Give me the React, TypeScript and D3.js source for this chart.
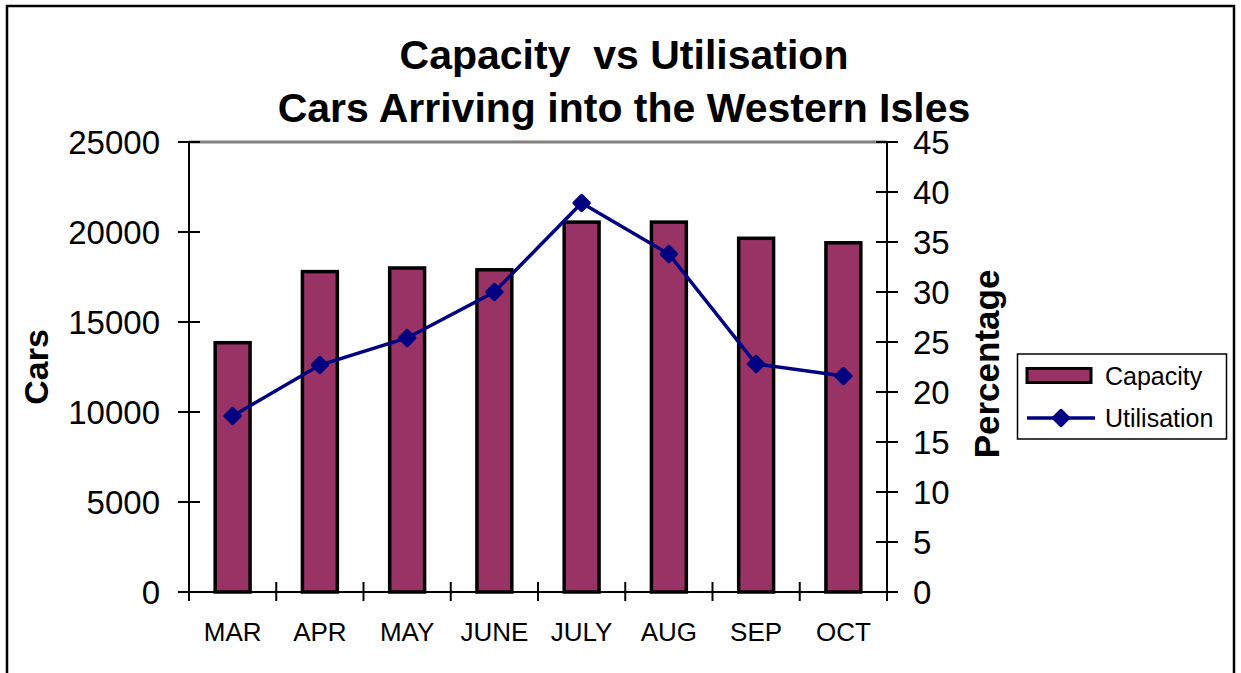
import React from "react";
import * as d3 from "d3";

const months = ["MAR", "APR", "MAY", "JUNE", "JULY", "AUG", "SEP", "OCT"];
const capacity = [13850, 17800, 18000, 17900, 20550, 20550, 19650, 19400];
const utilisation = [17.6, 22.7, 25.4, 30.0, 38.9, 33.8, 22.8, 21.6];
const leftTicks = [0, 5000, 10000, 15000, 20000, 25000];
const rightTicks = [0, 5, 10, 15, 20, 25, 30, 35, 40, 45];

const W = 1241;
const H = 673;
const plot = { left: 189, right: 887, top: 142, bottom: 592 };
const FONT = "Liberation Sans, Arial, Helvetica, sans-serif";

export default function App() {
  const x = d3.scaleBand<string>().domain(months).range([plot.left, plot.right]).padding(0);
  const yL = d3.scaleLinear().domain([0, 25000]).range([plot.bottom, plot.top]);
  const yR = d3.scaleLinear().domain([0, 45]).range([plot.bottom, plot.top]);
  const bw = x.bandwidth() * 0.4;
  const cx = (m: string) => (x(m) as number) + x.bandwidth() / 2;

  const line = d3
    .line<number>()
    .x((_, i) => cx(months[i]))
    .y((d) => yR(d));

  const diamond = (px: number, py: number, r: number) =>
    `M${px},${py - r}L${px + r},${py}L${px},${py + r}L${px - r},${py}Z`;

  const boundaries = d3.range(months.length + 1).map((i) => plot.left + i * x.bandwidth());

  return (
    <svg width={W} height={H} style={{ position: "absolute", left: 0, top: 0, background: "#fff" }} fontFamily={FONT}>
      <rect x={0} y={0} width={W} height={H} fill="#fff" />
      <rect x={7} y={6} width={1227} height={720} fill="none" stroke="#000" strokeWidth={2.5} />

      {/* title */}
      <text x={624} y={69} textAnchor="middle" fontSize={41} fontWeight="bold" style={{ whiteSpace: "pre" }}>
        {"Capacity  vs Utilisation"}
      </text>
      <text x={624} y={122} textAnchor="middle" fontSize={41} fontWeight="bold">
        Cars Arriving into the Western Isles
      </text>

      {/* bars */}
      {months.map((m, i) => (
        <rect
          key={m}
          x={cx(m) - bw / 2}
          y={yL(capacity[i])}
          width={bw}
          height={plot.bottom - yL(capacity[i])}
          fill="#993366"
          stroke="#000"
          strokeWidth={3.5}
        />
      ))}

      {/* plot frame */}
      <line x1={plot.left} x2={plot.right} y1={plot.top} y2={plot.top} stroke="#808080" strokeWidth={3} />
      <line x1={plot.left} x2={plot.left} y1={plot.top} y2={plot.bottom} stroke="#000" strokeWidth={2} />
      <line x1={plot.right} x2={plot.right} y1={plot.top} y2={plot.bottom} stroke="#000" strokeWidth={2} />
      <line x1={plot.left - 11} x2={plot.right + 11} y1={plot.bottom} y2={plot.bottom} stroke="#000" strokeWidth={2} />

      {/* left ticks */}
      {leftTicks.map((t) => (
        <g key={"l" + t}>
          <line x1={plot.left - 11} x2={plot.left + 11} y1={yL(t)} y2={yL(t)} stroke="#000" strokeWidth={2} />
          <text x={160} y={yL(t)} dy="0.36em" textAnchor="end" fontSize={33}>
            {t}
          </text>
        </g>
      ))}

      {/* right ticks */}
      {rightTicks.map((t) => (
        <g key={"r" + t}>
          <line x1={plot.right - 11} x2={plot.right + 11} y1={yR(t)} y2={yR(t)} stroke="#000" strokeWidth={2} />
          <text x={913} y={yR(t)} dy="0.36em" textAnchor="start" fontSize={33}>
            {t}
          </text>
        </g>
      ))}

      {/* x ticks */}
      {boundaries.map((b, i) => (
        <line key={"x" + i} x1={b} x2={b} y1={plot.bottom - 10} y2={plot.bottom + 9} stroke="#000" strokeWidth={2} />
      ))}
      {months.map((m) => (
        <text key={"t" + m} x={cx(m)} y={641} textAnchor="middle" fontSize={26}>
          {m}
        </text>
      ))}

      {/* utilisation line */}
      <path d={line(utilisation) || ""} fill="none" stroke="#000080" strokeWidth={3.5} />
      {utilisation.map((u, i) => (
        <path
          key={"d" + i}
          d={diamond(cx(months[i]), yR(u), 8)}
          fill="#000080"
          stroke="#000080"
          strokeWidth={2.5}
          strokeLinejoin="round"
        />
      ))}

      {/* axis titles */}
      <text
        transform={`translate(48,${367}) rotate(-90)`}
        textAnchor="middle"
        fontSize={34}
        fontWeight="bold"
      >
        Cars
      </text>
      <text
        transform={`translate(999,${364}) rotate(-90)`}
        textAnchor="middle"
        fontSize={35}
        fontWeight="bold"
      >
        Percentage
      </text>

      {/* legend */}
      <rect x={1017.5} y={354} width={209} height={85} fill="#fff" stroke="#000" strokeWidth={1.5} />
      <rect x={1027} y={368.5} width={64} height={14} fill="#993366" stroke="#000" strokeWidth={3} />
      <text x={1105} y={376} dy="0.36em" fontSize={25}>
        Capacity
      </text>
      <line x1={1027} x2={1095} y1={418} y2={418} stroke="#000080" strokeWidth={3.5} />
      <path d={diamond(1061, 418, 8)} fill="#000080" stroke="#000080" strokeWidth={2.5} strokeLinejoin="round" />
      <text x={1105} y={418} dy="0.36em" fontSize={25}>
        Utilisation
      </text>
    </svg>
  );
}
